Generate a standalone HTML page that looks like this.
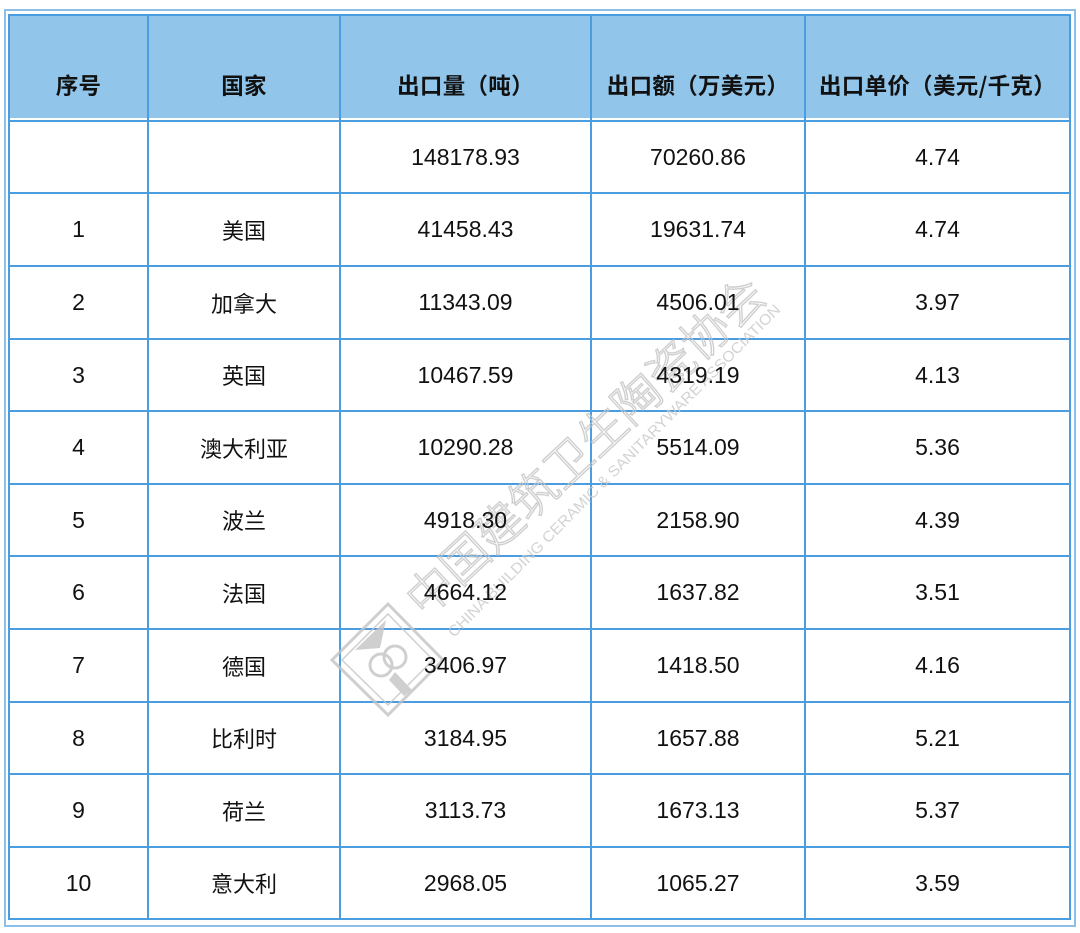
<!DOCTYPE html>
<html><head><meta charset="utf-8">
<style>
html,body{margin:0;padding:0;background:#fff;}
body{width:1080px;height:933px;position:relative;overflow:hidden;font-family:"Liberation Sans","Noto Sans CJK SC",sans-serif;}
.abs{position:absolute;}
.h{position:absolute;height:2px;background:#4c9de0;left:8px;width:1063px;}
.v{position:absolute;width:2px;background:#4c9de0;top:14px;height:906px;}
.c{position:absolute;display:flex;align-items:center;justify-content:center;font-size:23px;color:#111;white-space:nowrap;}
.hd{font-weight:bold;font-size:22.5px;letter-spacing:0.3px;color:#111;font-family:"Noto Sans CJK SC","Liberation Sans",sans-serif;}
.cn{font-family:"Noto Sans CJK SC",sans-serif;font-size:22px;}
</style></head><body>
<!-- outer double border -->
<div class="abs" style="left:4px;top:9px;width:1068px;height:914px;border:2px solid #8cc0ea;"></div>
<!-- header bg -->
<div class="abs" style="left:8px;top:14px;width:1063px;height:106px;background:#91c5ea;"></div>
<div class="abs" style="left:8px;top:14px;width:1059px;height:902px;border:2px solid #4c9de0;"></div>
<!-- horizontal lines -->
<div class="abs" style="left:10px;top:118px;width:1059px;height:2px;background:#ffffff;"></div>
<div class="h" style="top:120px"></div>
<div class="h" style="top:192px"></div>
<div class="h" style="top:265px"></div>
<div class="h" style="top:338px"></div>
<div class="h" style="top:410px"></div>
<div class="h" style="top:483px"></div>
<div class="h" style="top:555px"></div>
<div class="h" style="top:628px"></div>
<div class="h" style="top:701px"></div>
<div class="h" style="top:773px"></div>
<div class="h" style="top:846px"></div>
<!-- vertical lines -->
<div class="v" style="left:147px"></div>
<div class="v" style="left:339px;width:1.5px"></div>
<div class="v" style="left:590px;width:1.5px"></div>
<div class="v" style="left:804px;width:1.5px"></div>

<!-- watermark -->
<svg class="abs" style="left:0;top:0" width="1080" height="933" viewBox="0 0 1080 933">
  <g opacity="0.8">
    <g fill="none" stroke="#c4c4c4" stroke-width="3">
      <polygon points="388,604 443,660 388,715 332,660"/>
      <polygon points="388,614 433,660 388,705 342,660" stroke-width="1.5"/>
      <circle cx="381" cy="665" r="11"/>
      <circle cx="395" cy="657" r="11"/>
    </g>
    <path d="M355 650 L386 620 L380 648 Z" fill="#c4c4c4"/>
    <path d="M395 672 L412 690 L404 696 L389 680 Z" fill="#c4c4c4"/>
    <text x="0" y="0" transform="translate(425,619) rotate(-43)" font-family="Noto Sans CJK SC, sans-serif" font-size="47" font-weight="300" fill="none" stroke="#c4c4c4" stroke-width="1.4" textLength="470" lengthAdjust="spacing">中国建筑卫生陶瓷协会</text>
    <text x="0" y="0" transform="translate(454,638) rotate(-45)" font-family="Liberation Sans, sans-serif" font-size="15" fill="#c8c8c8" textLength="463" lengthAdjust="spacingAndGlyphs">CHINA BUILDING CERAMIC &amp; SANITARYWARE ASSOCIATION</text>
  </g>
</svg>

<!-- header -->
<div class="c hd" style="left:10px;top:40px;width:137px;height:90px;">序号</div>
<div class="c hd" style="left:149px;top:40px;width:190px;height:90px;">国家</div>
<div class="c hd" style="left:341px;top:40px;width:249px;height:90px;">出口量（吨）</div>
<div class="c hd" style="left:592px;top:40px;width:212px;height:90px;">出口额（万美元）</div>
<div class="c hd" style="left:806px;top:40px;width:263px;height:90px;">出口单价（美元/千克）</div>

<!-- rows -->
<div class="c" style="left:341px;top:122px;width:249px;height:70px;">148178.93</div>
<div class="c" style="left:592px;top:122px;width:212px;height:70px;">70260.86</div>
<div class="c" style="left:806px;top:122px;width:263px;height:70px;">4.74</div>

<div class="c" style="left:10px;top:194px;width:137px;height:71px;">1</div>
<div class="c cn" style="left:149px;top:194px;width:190px;height:71px;">美国</div>
<div class="c" style="left:341px;top:194px;width:249px;height:71px;">41458.43</div>
<div class="c" style="left:592px;top:194px;width:212px;height:71px;">19631.74</div>
<div class="c" style="left:806px;top:194px;width:263px;height:71px;">4.74</div>

<div class="c" style="left:10px;top:267px;width:137px;height:71px;">2</div>
<div class="c cn" style="left:149px;top:267px;width:190px;height:71px;">加拿大</div>
<div class="c" style="left:341px;top:267px;width:249px;height:71px;">11343.09</div>
<div class="c" style="left:592px;top:267px;width:212px;height:71px;">4506.01</div>
<div class="c" style="left:806px;top:267px;width:263px;height:71px;">3.97</div>

<div class="c" style="left:10px;top:340px;width:137px;height:70px;">3</div>
<div class="c cn" style="left:149px;top:340px;width:190px;height:70px;">英国</div>
<div class="c" style="left:341px;top:340px;width:249px;height:70px;">10467.59</div>
<div class="c" style="left:592px;top:340px;width:212px;height:70px;">4319.19</div>
<div class="c" style="left:806px;top:340px;width:263px;height:70px;">4.13</div>

<div class="c" style="left:10px;top:412px;width:137px;height:71px;">4</div>
<div class="c cn" style="left:149px;top:412px;width:190px;height:71px;">澳大利亚</div>
<div class="c" style="left:341px;top:412px;width:249px;height:71px;">10290.28</div>
<div class="c" style="left:592px;top:412px;width:212px;height:71px;">5514.09</div>
<div class="c" style="left:806px;top:412px;width:263px;height:71px;">5.36</div>

<div class="c" style="left:10px;top:485px;width:137px;height:70px;">5</div>
<div class="c cn" style="left:149px;top:485px;width:190px;height:70px;">波兰</div>
<div class="c" style="left:341px;top:485px;width:249px;height:70px;">4918.30</div>
<div class="c" style="left:592px;top:485px;width:212px;height:70px;">2158.90</div>
<div class="c" style="left:806px;top:485px;width:263px;height:70px;">4.39</div>

<div class="c" style="left:10px;top:557px;width:137px;height:71px;">6</div>
<div class="c cn" style="left:149px;top:557px;width:190px;height:71px;">法国</div>
<div class="c" style="left:341px;top:557px;width:249px;height:71px;">4664.12</div>
<div class="c" style="left:592px;top:557px;width:212px;height:71px;">1637.82</div>
<div class="c" style="left:806px;top:557px;width:263px;height:71px;">3.51</div>

<div class="c" style="left:10px;top:630px;width:137px;height:71px;">7</div>
<div class="c cn" style="left:149px;top:630px;width:190px;height:71px;">德国</div>
<div class="c" style="left:341px;top:630px;width:249px;height:71px;">3406.97</div>
<div class="c" style="left:592px;top:630px;width:212px;height:71px;">1418.50</div>
<div class="c" style="left:806px;top:630px;width:263px;height:71px;">4.16</div>

<div class="c" style="left:10px;top:703px;width:137px;height:70px;">8</div>
<div class="c cn" style="left:149px;top:703px;width:190px;height:70px;">比利时</div>
<div class="c" style="left:341px;top:703px;width:249px;height:70px;">3184.95</div>
<div class="c" style="left:592px;top:703px;width:212px;height:70px;">1657.88</div>
<div class="c" style="left:806px;top:703px;width:263px;height:70px;">5.21</div>

<div class="c" style="left:10px;top:775px;width:137px;height:71px;">9</div>
<div class="c cn" style="left:149px;top:775px;width:190px;height:71px;">荷兰</div>
<div class="c" style="left:341px;top:775px;width:249px;height:71px;">3113.73</div>
<div class="c" style="left:592px;top:775px;width:212px;height:71px;">1673.13</div>
<div class="c" style="left:806px;top:775px;width:263px;height:71px;">5.37</div>

<div class="c" style="left:10px;top:848px;width:137px;height:70px;">10</div>
<div class="c cn" style="left:149px;top:848px;width:190px;height:70px;">意大利</div>
<div class="c" style="left:341px;top:848px;width:249px;height:70px;">2968.05</div>
<div class="c" style="left:592px;top:848px;width:212px;height:70px;">1065.27</div>
<div class="c" style="left:806px;top:848px;width:263px;height:70px;">3.59</div>
</body></html>
